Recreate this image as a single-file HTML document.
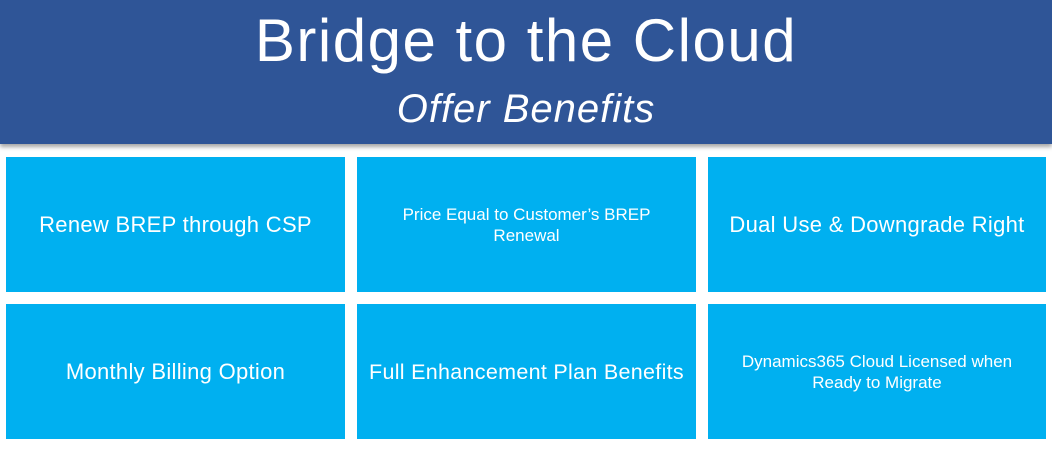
<!DOCTYPE html>
<html><head><meta charset="utf-8"><style>
body{margin:0;width:1052px;height:452px;background:#fff;position:relative;overflow:hidden;font-family:"Liberation Sans",sans-serif}
.hdr{position:absolute;left:0;top:0;width:1052px;height:144px;background:#2F5597;box-shadow:0 3px 4px rgba(0,0,0,.35);color:#fff;text-align:center}
.t1{position:absolute;left:0;right:0;top:6px;font-size:60px;line-height:70px;letter-spacing:1.5px}
.t2{position:absolute;left:0;right:0;top:84px;font-size:40px;font-style:italic;line-height:50px;letter-spacing:1px}
.b{position:absolute;background:#00B0F0;color:#fff;display:flex;align-items:center;justify-content:center;text-align:center;font-size:22px;line-height:24px;width:339px;height:135px;letter-spacing:0.3px}
.s{font-size:17px;line-height:21px;letter-spacing:0}
</style></head><body>
<div class="hdr"><div class="t1">Bridge to the Cloud</div><div class="t2">Offer Benefits</div></div>
<div class="b" style="left:6px;top:157px">Renew BREP through CSP</div>
<div class="b s" style="left:357px;top:157px">Price Equal to Customer’s BREP<br>Renewal</div>
<div class="b" style="left:708px;top:157px;width:338px">Dual Use &amp; Downgrade Right</div>
<div class="b" style="left:6px;top:304px">Monthly Billing Option</div>
<div class="b" style="left:357px;top:304px;font-size:21.5px">Full Enhancement Plan Benefits</div>
<div class="b s" style="left:708px;top:304px;width:338px">Dynamics365 Cloud Licensed when<br>Ready to Migrate</div>
</body></html>
